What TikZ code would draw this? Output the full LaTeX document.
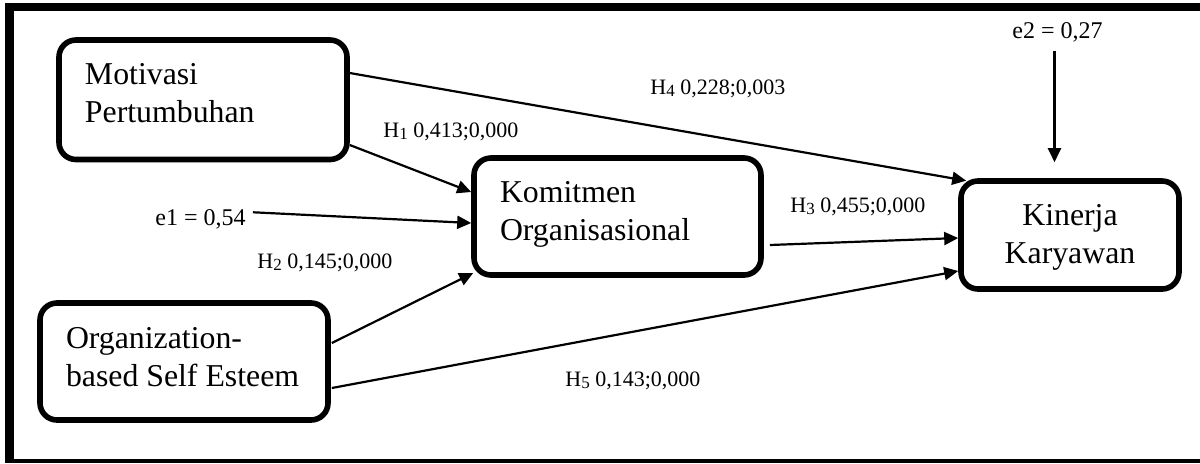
\documentclass[tikz,border=0pt]{standalone}
\usepackage{fontspec}
\setmainfont{Liberation Serif}
\usetikzlibrary{arrows.meta,calc}
\newcommand{\hsub}[1]{\raisebox{-1.2pt}{\fontsize{8.5}{9}\selectfont #1}}
\begin{document}
\begin{tikzpicture}[x=0.5pt,y=-0.5pt,
  box/.style={draw, line width=2.8pt, rounded corners=8.5pt, inner sep=0pt,
    font=\fontsize{15.9}{19.25}\selectfont},
  hlab/.style={inner sep=0pt, anchor=base west, font=\fontsize{11}{13}\selectfont},
  elab/.style={inner sep=0pt, anchor=base west, font=\fontsize{12}{14}\selectfont},
  arr/.style={line width=1.1pt, -{Triangle[length=7pt,width=6.5pt]}}]
\useasboundingbox (0,0) rectangle (1200,463);
% frame
\fill (5,3) rectangle (1200,11);
\fill (5,3) rectangle (14,462.5);
\fill (5,459) rectangle (1200,462.5);
% boxes
\node[box] (mot) at (203,99.75) {\parbox[c][59.75pt][t]{144pt}{\raggedright\leftskip=13pt\rule{0pt}{22pt}Motivasi\\Pertumbuhan}};
\node[box] (org) at (184,361.5) {\parbox[c][58.5pt][t]{144pt}{\raggedright\leftskip=13pt\rule{0pt}{22.5pt}Organization-\\based Self Esteem}};
\node[box] (kom) at (617.5,216.5) {\parbox[c][58.5pt][t]{143.5pt}{\raggedright\leftskip=13pt\rule{0pt}{22pt}Komitmen\\Organisasional}};
\node[box] (kin) at (1070,235) {\parbox[c][54pt][t]{109pt}{\centering\rule{0pt}{22pt}Kinerja\\Karyawan}};
% labels
\node[hlab] (h4) at (650,94) {H\hsub{4} 0,228;0,003};
\node[hlab] (h1) at (383,137) {H\hsub{1} 0,413;0,000};
\node[hlab] (h2) at (257,268) {H\hsub{2} 0,145;0,000};
\node[hlab] (h3) at (790,212) {H\hsub{3} 0,455;0,000};
\node[hlab] (h5) at (565,386) {H\hsub{5} 0,143;0,000};
\node[elab] (e1) at (155,225) {e1 = 0,54};
\node[elab] (e2) at (1012,38) {e2 = 0,27};
% connectors
\draw[arr] ($(mot.east)+(0,-26.75)$) -- ($(kin.north west)+(8,2.5)$);
\draw[arr] ($(mot.east)+(0,45.25)$) -- ($(kom.west)+(0,-24.5)$);
\draw[arr] ($(e1.east)+(7,-6.6)$) -- ($(kom.west)+(0,6.5)$);
\draw[arr] ($(org.east)+(1,-18.5)$) -- ($(kom.west)+(2,56.5)$);
\draw[arr] ($(org.east)+(1,26.5)$) -- ($(kin.west)+(0,36)$);
\draw[arr] ($(kom.east)+(6,28.5)$) -- ($(kin.west)+(0,3)$);
\draw[arr] ($(e2.south)+(-3,8.6)$) -- ($(e2.south |- kin.north)+(-3,-16)$);
\end{tikzpicture}
\end{document}
